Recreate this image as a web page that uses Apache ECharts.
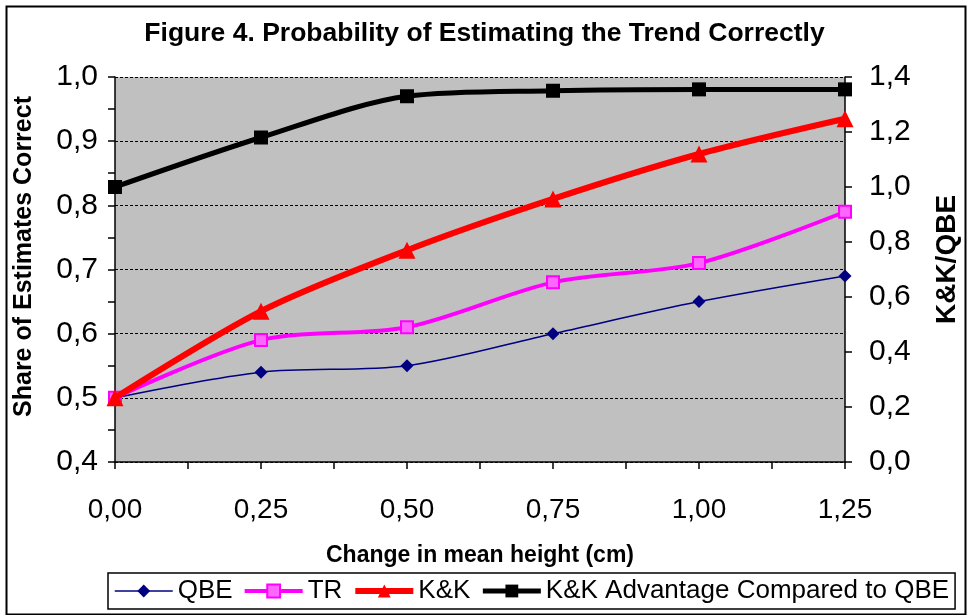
<!DOCTYPE html>
<html>
<head>
<meta charset="utf-8">
<script src="https://cdn.jsdelivr.net/npm/echarts@6/dist/echarts.min.js"></script>
<style>
html,body{margin:0;padding:0;background:#fff;}
#chart{width:969px;height:615px;}
</style>
</head>
<body>
<div id="chart"></div>
<script>
// Data
const changeInHeight = [0, 0.25, 0.5, 0.75, 1.0, 1.25];
const qbe = [0.50, 0.54, 0.55, 0.60, 0.65, 0.69];
const tr = [0.50, 0.59, 0.61, 0.68, 0.71, 0.79];
const kk = [0.50, 0.635, 0.73, 0.81, 0.88, 0.935];
const kkAdvantage = [1.00, 1.18, 1.33, 1.35, 1.355, 1.355];
const seriesNames = ['QBE', 'TR', 'K&K', 'K&K Advantage Compared to QBE'];
const titleText = 'Figure 4. Probability of Estimating the Trend Correctly';
const xName = 'Change in mean height (cm)';
const yLeftName = 'Share of Estimates Correct';
const yRightName = 'K&K/QBE';

const pairs = (ys) => changeInHeight.map((x, i) => [x, ys[i]]);
const comma = (d) => (v) => v.toFixed(d).replace('.', ',');
const FONT = "'Liberation Sans', Arial, sans-serif";
const lineWidths = [1.5, 4, 6, 5];

const chart = echarts.init(document.getElementById('chart'));
chart.setOption({
  backgroundColor: '#ffffff',
  animation: false,
  textStyle: { fontFamily: FONT, color: '#000' },
  graphic: [{
    type: 'rect', left: 4, top: 4, shape: { width: 959, height: 608 },
    style: { fill: 'none', stroke: '#000', lineWidth: 2 }, silent: true, z: -1
  }],
  title: {
    text: titleText, left: 'center', top: 15,
    textStyle: { fontFamily: FONT, fontSize: 26.5, fontWeight: 'bold', color: '#000' }
  },
  grid: {
    left: 115, right: 124, top: 77, bottom: 153,
    show: true, backgroundColor: '#C0C0C0', borderWidth: 0
  },
  legend: {
    data: seriesNames.map((n, i) => ({ name: n, lineStyle: { width: lineWidths[i] } })),
    left: 108, top: 573,
    width: 850,
    orient: 'horizontal',
    borderColor: '#000', borderWidth: 1.5,
    padding: [5, 6, 5, 6],
    itemGap: 10,
    itemWidth: 58, itemHeight: 16,
    textStyle: { fontFamily: FONT, fontSize: 26, color: '#000' }
  },
  xAxis: {
    type: 'value', min: 0, max: 1.25, interval: 0.25,
    name: xName, nameLocation: 'middle', nameGap: 82,
    nameTextStyle: { fontFamily: FONT, fontSize: 23, fontWeight: 'bold', color: '#000' },
    axisLine: { show: true, lineStyle: { color: '#000', width: 1.5 } },
    axisTick: { show: true, length: 7, lineStyle: { color: '#000', width: 1.5 } },
    minorTick: { show: true, splitNumber: 2, length: 7, lineStyle: { color: '#000', width: 1.5 } },
    splitLine: { show: false },
    axisLabel: { formatter: comma(2), fontSize: 28, color: '#000', margin: 34, fontFamily: FONT }
  },
  yAxis: [{
    type: 'value', min: 0.4, max: 1.0, interval: 0.1, position: 'left',
    name: yLeftName, nameLocation: 'middle', nameGap: 78, nameRotate: 90,
    nameTextStyle: { fontFamily: FONT, fontSize: 25, fontWeight: 'bold', color: '#000', padding: [0, 0, 0, 26] },
    axisLine: { show: true, lineStyle: { color: '#000', width: 1.5 } },
    axisTick: { show: true, length: 7, lineStyle: { color: '#000', width: 1.5 } },
    minorTick: { show: true, splitNumber: 2, length: 7, lineStyle: { color: '#000', width: 1.5 } },
    splitLine: { show: true, lineStyle: { color: '#000', width: 1, type: [3, 2] } },
    axisLabel: { formatter: comma(1), fontSize: 30, color: '#000', margin: 17, fontFamily: FONT }
  }, {
    type: 'value', min: 0, max: 1.4, interval: 0.2, position: 'right',
    name: yRightName, nameLocation: 'middle', nameGap: 88, nameRotate: 90,
    nameTextStyle: { fontFamily: FONT, fontSize: 28, fontWeight: 'bold', color: '#000', padding: [0, 0, 0, 20] },
    axisLine: { show: true, lineStyle: { color: '#000', width: 1.5 } },
    axisTick: { show: true, length: 7, lineStyle: { color: '#000', width: 1.5 } },
    splitLine: { show: false },
    axisLabel: { formatter: comma(1), fontSize: 30, color: '#000', margin: 24, fontFamily: FONT }
  }],
  series: [{
    name: seriesNames[0], type: 'line', data: pairs(qbe), smooth: 0.3,
    symbol: 'diamond', symbolSize: 13,
    lineStyle: { color: '#000080', width: lineWidths[0] },
    itemStyle: { color: '#000080' }, z: 2
  }, {
    name: seriesNames[1], type: 'line', data: pairs(tr), smooth: 0.3,
    symbol: 'rect', symbolSize: 12,
    lineStyle: { color: '#FF00FF', width: lineWidths[1] },
    itemStyle: { color: '#FF66FF', borderColor: '#FF00FF', borderWidth: 2 }, z: 3
  }, {
    name: seriesNames[2], type: 'line', data: pairs(kk), smooth: 0.3,
    symbol: 'triangle', symbolSize: 17,
    lineStyle: { color: '#FF0000', width: lineWidths[2] },
    itemStyle: { color: '#FF0000' }, z: 4
  }, {
    name: seriesNames[3], type: 'line', data: pairs(kkAdvantage), smooth: 0.3,
    yAxisIndex: 1,
    symbol: 'rect', symbolSize: 14,
    lineStyle: { color: '#000000', width: lineWidths[3] },
    itemStyle: { color: '#000000' }, z: 5
  }]
});
</script>
</body>
</html>
